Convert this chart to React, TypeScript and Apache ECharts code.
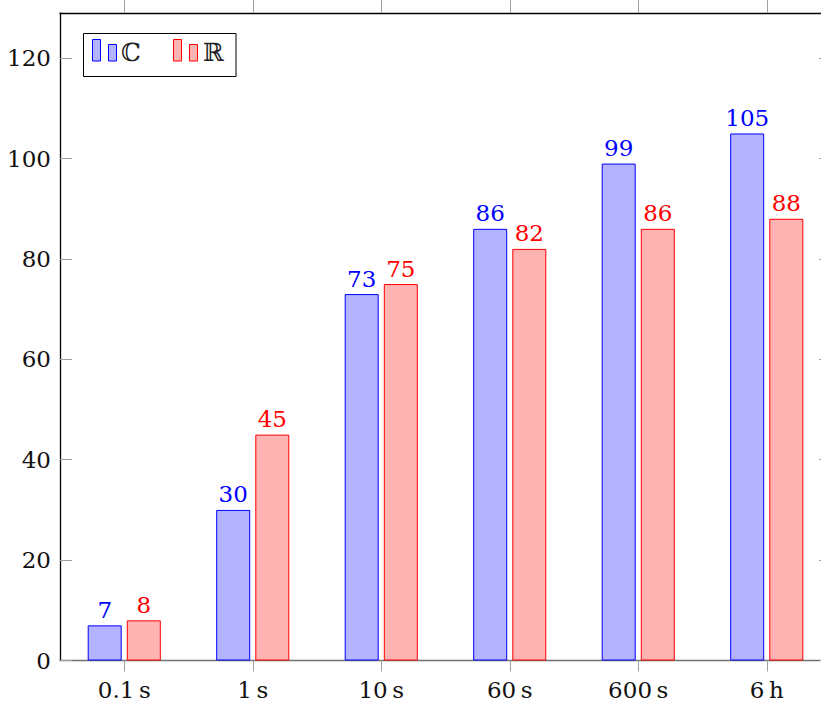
import React, { useEffect, useRef } from "react";
import * as echarts from "echarts";

const categories = ["0.1\u2009s", "1\u2009s", "10\u2009s", "60\u2009s", "600\u2009s", "6\u2009h"];
const complexValues = [7, 30, 73, 86, 99, 105];
const realValues = [8, 45, 75, 82, 86, 88];
const yTicks = [0, 20, 40, 60, 80, 100, 120];
const seriesNames = ["\u2102", "\u211D"];

const FONT = "DejaVu Serif";
const FS = 23;
const BLUE = "#0000ff";
const BLUE_FILL = "#b3b3ff";
const RED = "#ff0000";
const RED_FILL = "#ffb3b3";
const TICK = "#a0a0a0";

export default function App() {
  const ref = useRef<HTMLDivElement>(null);
  useEffect(() => {
    if (!ref.current) return;
    const chart = echarts.init(ref.current, null, { renderer: "svg" });
    const labelStyle = (color: string) => ({
      show: true,
      position: "top",
      distance: 4,
      color,
      fontFamily: FONT,
      fontSize: FS,
    });
    chart.setOption({
      animation: false,
      textStyle: { fontFamily: FONT },
      grid: { left: 60, right: 29, top: 13, bottom: 43.5, containLabel: false },
      xAxis: [
        {
          type: "category",
          data: categories,
          position: "bottom",
          axisLine: { show: true, onZero: false, lineStyle: { color: "#707070", width: 1.3 } },
          axisTick: { show: true, alignWithLabel: true, length: 11, inside: false, lineStyle: { color: TICK, width: 1 } },
          axisLabel: { color: "#111", fontFamily: FONT, fontSize: FS, margin: 18 },
          splitLine: { show: false },
        },
        {
          type: "category",
          data: categories,
          position: "top",
          axisLine: { show: true, onZero: false, lineStyle: { color: "#000", width: 1.3 } },
          axisTick: { show: true, alignWithLabel: true, length: 14, inside: false, lineStyle: { color: TICK, width: 1 } },
          axisLabel: { show: false },
          splitLine: { show: false },
        },
      ],
      yAxis: [
        {
          type: "value",
          min: 0,
          max: 129,
          interval: 20,
          position: "left",
          axisLine: { show: true, onZero: false, lineStyle: { color: "#000", width: 1.3 } },
          axisTick: { show: true, inside: true, length: 12, customValues: yTicks, lineStyle: { color: TICK, width: 1 } },
          axisLabel: { color: "#111", fontFamily: FONT, fontSize: FS, margin: 9, customValues: yTicks },
          splitLine: { show: false },
        },
        {
          type: "value",
          min: 0,
          max: 129,
          interval: 20,
          position: "right",
          axisLine: { show: true, onZero: false, lineStyle: { color: "#000", width: 1.3 } },
          axisTick: { show: true, inside: true, length: 12, customValues: yTicks, lineStyle: { color: TICK, width: 1 } },
          axisLabel: { show: false },
          splitLine: { show: false },
        },
      ],
      series: [
        {
          name: seriesNames[0],
          type: "bar",
          data: complexValues,
          barWidth: 34,
          barGap: "15%",
          itemStyle: { color: BLUE_FILL, borderColor: BLUE, borderWidth: 1 },
          label: labelStyle(BLUE),
        },
        {
          name: seriesNames[1],
          type: "bar",
          data: realValues,
          barWidth: 34,
          barGap: "15%",
          itemStyle: { color: RED_FILL, borderColor: RED, borderWidth: 1 },
          label: labelStyle(RED),
        },
      ],
      graphic: [
        {
          type: "rect",
          shape: { x: 83.5, y: 33.5, width: 152.5, height: 43 },
          style: { fill: "#fff", stroke: "#000", lineWidth: 1 },
        },
        { type: "rect", shape: { x: 92.5, y: 39.5, width: 8, height: 21.5 }, style: { fill: BLUE_FILL, stroke: BLUE, lineWidth: 1 } },
        { type: "rect", shape: { x: 108.5, y: 44.5, width: 8, height: 16.5 }, style: { fill: BLUE_FILL, stroke: BLUE, lineWidth: 1 } },
        {
          type: "text",
          x: 121,
          y: 52,
          style: { text: seriesNames[0], fill: "#222", fontFamily: "DejaVu Serif", fontSize: 25, verticalAlign: "middle" },
        },
        { type: "rect", shape: { x: 173.5, y: 39.5, width: 8, height: 21.5 }, style: { fill: RED_FILL, stroke: RED, lineWidth: 1 } },
        { type: "rect", shape: { x: 189.5, y: 44.5, width: 8, height: 16.5 }, style: { fill: RED_FILL, stroke: RED, lineWidth: 1 } },
        {
          type: "text",
          x: 203,
          y: 52,
          style: { text: seriesNames[1], fill: "#222", fontFamily: "DejaVu Serif", fontSize: 25, verticalAlign: "middle" },
        },
      ],
    });
    return () => chart.dispose();
  }, []);
  return (
    <div style={{ position: "fixed", left: 0, top: 0, width: 821, height: 704, overflow: "hidden", background: "#fff" }}>
      <div ref={ref} style={{ width: 860, height: 704 }} />
    </div>
  );
}
